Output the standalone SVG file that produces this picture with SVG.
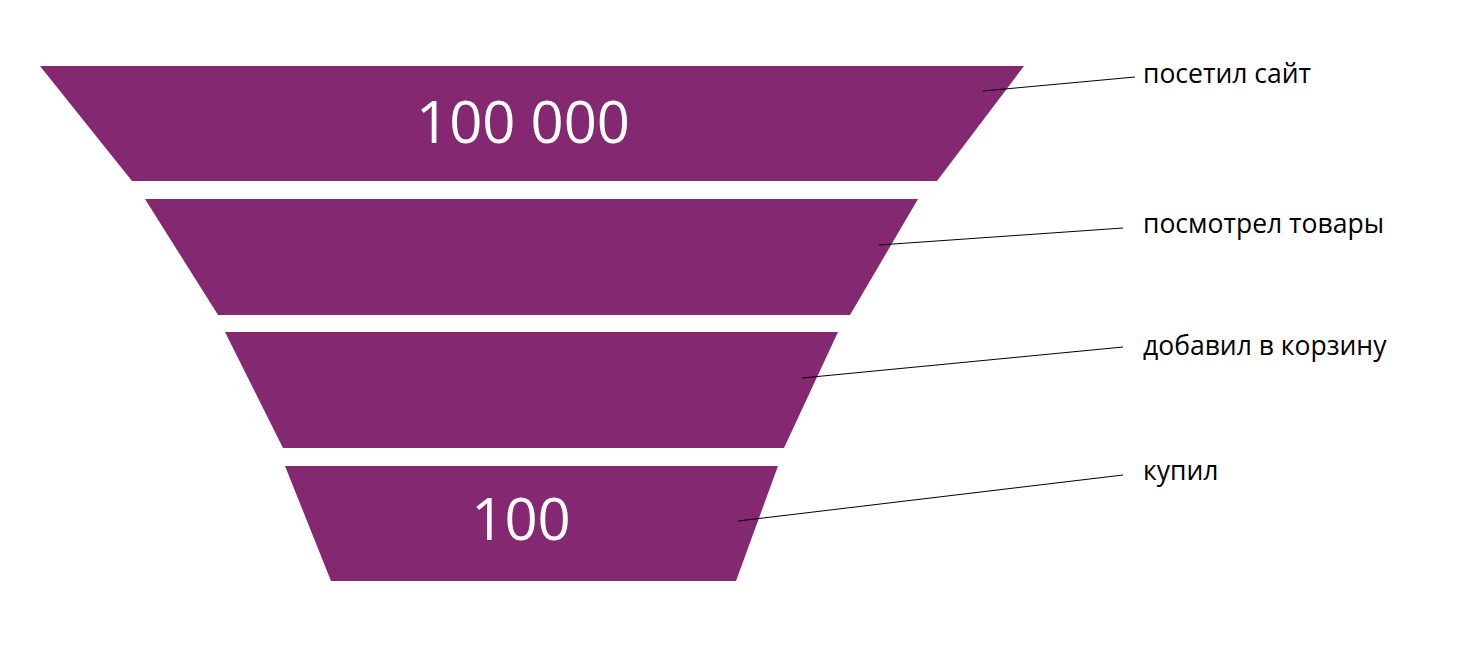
<svg xmlns="http://www.w3.org/2000/svg" width="1482" height="645" viewBox="0 0 1482 645">
<style>
.seg{fill:#852872}
.num{font-family:"Open Sans","Noto Sans",sans-serif;font-size:58px;fill:#fff;text-anchor:middle}
.lbl{font-family:"Open Sans","Noto Sans",sans-serif;font-size:26.5px;fill:#000}
.con line{stroke:#000;stroke-width:1}
</style>
<rect width="1482" height="645" fill="#fff"/>
<g id="stage1"><polygon class="seg" points="40,66 1024,66 937,181 132,181"/><text class="num" x="523" y="143">100 000</text></g>
<g id="stage2"><polygon class="seg" points="145,199 918,199 850,315 218,315"/></g>
<g id="stage3"><polygon class="seg" points="225,332 838,332 784,448 283,448"/></g>
<g id="stage4"><polygon class="seg" points="285,466 778,466 736,581 331,581"/><text class="num" x="521" y="540">100</text></g>
<g class="con" id="connectors">
<line x1="983" y1="91" x2="1135" y2="77"/>
<line x1="879" y1="245" x2="1123" y2="228"/>
<line x1="802" y1="378" x2="1123" y2="347"/>
<line x1="738" y1="521" x2="1123" y2="475"/>
</g>
<g id="labels">
<text class="lbl" x="1143" y="83">посетил сайт</text>
<text class="lbl" x="1143" y="233">посмотрел товары</text>
<text class="lbl" x="1143" y="355">добавил в корзину</text>
<text class="lbl" x="1143" y="480">купил</text>
</g>
</svg>
